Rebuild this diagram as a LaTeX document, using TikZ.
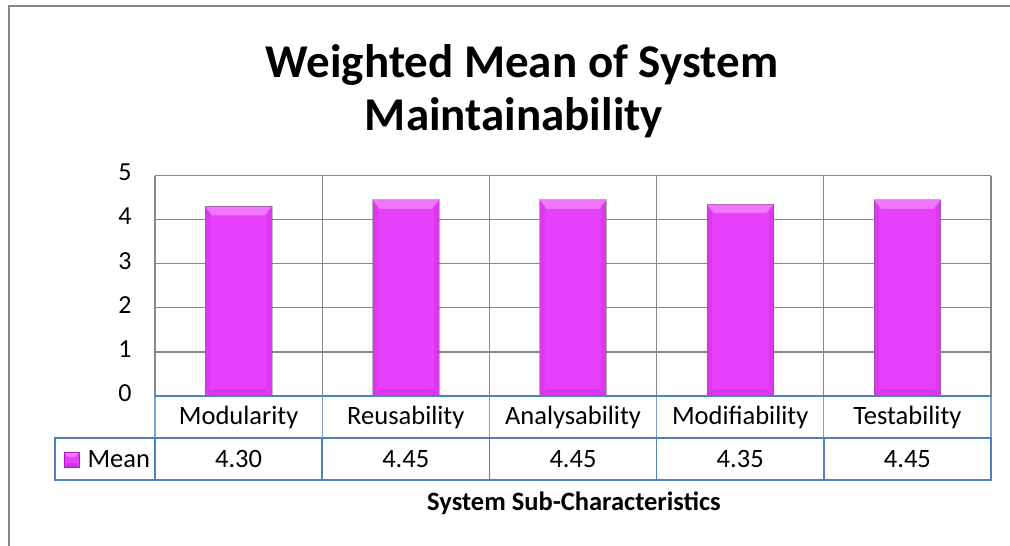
\documentclass[tikz,border=0pt]{standalone}
\usepackage{fontspec}
\setmainfont{Carlito}
\definecolor{barmain}{RGB}{232,64,250}
\definecolor{barlight}{RGB}{240,118,253}
\definecolor{bardark}{RGB}{170,30,185}
\definecolor{tabinc}{RGB}{126,160,208}
\definecolor{taboutc}{RGB}{79,129,189}
\begin{document}
\begin{tikzpicture}[x=1pt,y=-1pt,
  frame/.style={draw=black!47,line width=2pt},
  grid/.style={draw=black!47,line width=1.3pt},
  tabin/.style={draw=tabinc,line width=1.2pt},
  tabout/.style={draw=taboutc,line width=1.6pt},
  ticklab/.style={font=\fontsize{26}{30}\selectfont,anchor=center},
  catlab/.style={font=\fontsize{26.5}{30}\selectfont,anchor=center},
  title/.style={font=\bfseries\fontsize{47}{54}\selectfont,align=center},
  axtitle/.style={font=\bfseries\fontsize{26.5}{30}\selectfont}]
\useasboundingbox (0,0) rectangle (1010,546);
\fill[white] (0,0) rectangle (1010,546);
% outer frame (partly cropped)
\draw[frame] (9,546) -- (9,6) -- (1010,6);
% title
\node[title] (t1) at (522,65) {Weighted Mean of System};
\node[title] (t2) at (514,118) {Maintainability};
% grid
\foreach \v in {1,...,5}{
  \draw[grid] (155,{396-44.1*\v}) -- (991,{396-44.1*\v});
}
\foreach \i in {0,...,5}{
  \draw[grid] ({155+167.2*\i},175.5) -- ({155+167.2*\i},396);
}
% tick labels
\foreach \v in {0,...,5}{
  \node[ticklab] (tick\v) at (125,{396-44.1*\v-3}) {\v};
}
% bars
\foreach \val [count=\i from 0] in {4.30,4.45,4.45,4.35,4.45}{
  \pgfmathsetmacro{\cx}{155+167.2*(\i+0.5)}
  \pgfmathsetmacro{\bt}{396-44.1*\val}
  \pgfmathsetmacro{\xl}{\cx-33.3}
  \pgfmathsetmacro{\xr}{\cx+33.3}
  \fill[barmain] (\xl,\bt) rectangle (\xr,396);
  \fill[barlight] (\xl,\bt) -- (\xr,\bt) -- (\xr-7,\bt+9) -- (\xl+7,\bt+9) -- cycle;
  \fill[bardark,opacity=0.25] (\xl,396) -- (\xr,396) -- (\xr-7,389) -- (\xl+7,389) -- cycle;
  \fill[bardark,opacity=0.18] (\xl,\bt) -- (\xl+5,\bt+8) -- (\xl+5,390) -- (\xl,396) -- cycle;
  \fill[bardark,opacity=0.18] (\xr,\bt) -- (\xr-5,\bt+8) -- (\xr-5,390) -- (\xr,396) -- cycle;
  \draw[black!60,opacity=0.45,line width=0.8pt] (\xl,\bt) rectangle (\xr,396);
  \node[coordinate] (bar\i) at (\cx,\bt) {};
}
% table header row
\draw[tabin] (155,396) -- (155,438);
\foreach \i in {1,...,5}{
  \draw[tabin] ({155+167.2*\i},396) -- ({155+167.2*\i},438);
}
\draw[tabout] (155,396) -- (991,396);
% table value row
\draw[tabout] (55,438) rectangle (991,480);
\foreach \i in {0,...,4}{
  \draw[tabout] ({155+167.2*\i},438) -- ({155+167.2*\i},480);
}
% category labels and values
\foreach \c/\val [count=\i from 0] in {Modularity/4.30,Reusability/4.45,Analysability/4.45,Modifiability/4.35,Testability/4.45}{
  \node[catlab] (cat\i) at ({155+167.2*(\i+0.5)},417) {\c};
  \node[catlab] (val\i) at ({155+167.2*(\i+0.5)},459) {\val};
}
% legend key
\fill[barmain] (64,452) rectangle (79,467);
\fill[barlight] (64,452) -- (79,452) -- (75,457) -- (68,457) -- cycle;
\fill[bardark,opacity=0.4] (64,467) -- (79,467) -- (75,463) -- (68,463) -- cycle;
\draw[bardark,line width=0.5pt] (64,452) rectangle (79,467);
\node[catlab,anchor=west] (mean) at (84,459) {Mean};
% axis title
\node[axtitle] (axt) at (574,503) {System Sub-Characteristics};
\end{tikzpicture}
\end{document}
